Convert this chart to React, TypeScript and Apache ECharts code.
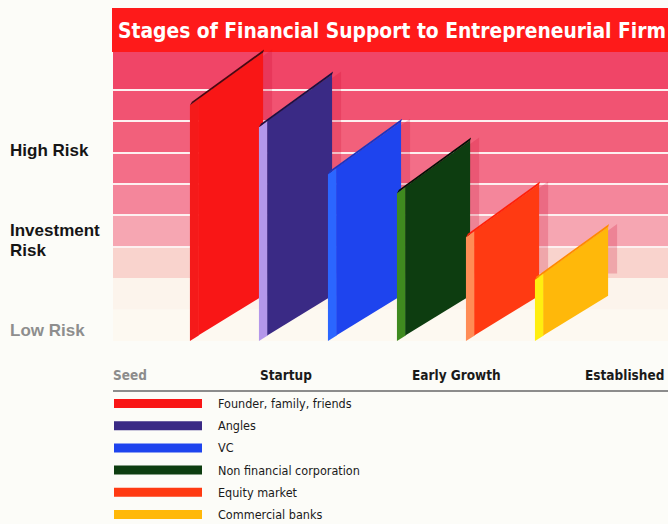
import React, { useEffect, useRef } from "react";
import * as echarts from "echarts";

const TITLE = "Stages of Financial Support to Entrepreneurial Firm";
const sources = [
  "Founder, family, friends",
  "Angles",
  "VC",
  "Non financial corporation",
  "Equity market",
  "Commercial banks",
];
// risk level reached by each source (in background band units)
const riskValues = [7.5, 6.8, 5.3, 4.7, 3.3, 1.95];
const frontColors = ["#f91616", "#3a2a85", "#1e44ee", "#0d3d10", "#ff3a12", "#ffb80a"];
const stripColors = ["#f51a1a", "#b497ea", "#2b66ff", "#3f8a1f", "#ff8c55", "#ffee10"];
const topColors = ["#4a0810", "#1a1040", "#1a34c0", "#050f05", "#ff2008", "#ff8a00"];
const stages = ["Seed", "Startup", "Early Growth", "Established"];
const stageX = [113, 260, 412, 585];
const riskLabels = ["High Risk", "Investment\nRisk", "Low Risk"];
const riskLabelY = [150, 240, 330];
const bandColors = [
  "#fdf9f1", "#fcf4ec", "#f9d3cd", "#f6a6b2", "#f4869b",
  "#f36e88", "#f2607b", "#f15372", "#f04567", "#f04567",
];
const lineColors = [
  "rgba(0,0,0,0)", "rgba(0,0,0,0)", "rgba(0,0,0,0)", "#fdf0f0", "#fdf0f0",
  "#fdf0f0", "#fdf0f0", "#fdf0f0", "#fdf0f0", "rgba(0,0,0,0)", "rgba(0,0,0,0)",
];

const NARROW = "'Liberation Sans Narrow', 'DejaVu Sans Condensed', 'Liberation Sans', sans-serif";
const WIDE = "'Liberation Sans', Arial, sans-serif";

function makeRender(idx: number) {
  return (params: any, api: any) => {
    const xv = api.value(0);
    const v = api.value(1);
    const top = api.coord([xv, v]);
    const base = api.coord([xv, 0]);
    const clip = api.coord([xv, 2.15])[1];
    const w = api.size([1, 0])[0] * 1.06;
    const L = top[0] - w / 2;
    const R = top[0] + w / 2;
    const yT = top[1];
    const yB = base[1];
    const s = w * 0.12;
    const tr = w * 0.72;
    const br = w * 0.62;
    const sx = 9;
    const shadow = [
      [L + sx, yT - 3],
      [R + sx, yT - tr - 3],
      [R + sx, Math.min(yB - br - 2, clip)],
      [L + sx, Math.min(yB - 2, clip)],
    ];
    const strip = [
      [L, yT],
      [L + s, yT - (s / w) * tr],
      [L + s, yB - (s / w) * br],
      [L, yB],
    ];
    const front = [
      [L + s - 0.5, yT - (s / w) * tr],
      [R, yT - tr],
      [R, yB - br],
      [L + s - 0.5, yB - (s / w) * br],
    ];
    const topFace = [
      [L, yT],
      [R, yT - tr],
      [R + 1, yT - tr - 3],
      [L + 2, yT - 3.5],
    ];
    return {
      type: "group",
      children: [
        { type: "polygon", shape: { points: shadow }, style: { fill: "rgba(205,10,45,0.22)" } },
        { type: "polygon", shape: { points: strip }, style: { fill: stripColors[idx] } },
        { type: "polygon", shape: { points: front }, style: { fill: frontColors[idx] } },
        { type: "polygon", shape: { points: topFace }, style: { fill: topColors[idx] } },
      ],
    };
  };
}

export default function App() {
  const ref = useRef<HTMLDivElement>(null);
  useEffect(() => {
    if (!ref.current) return;
    const chart = echarts.init(ref.current, null, { renderer: "svg" });
    const graphics: any[] = [
      { type: "rect", shape: { x: 112, y: 8, width: 556, height: 44 }, style: { fill: "#fe1a1a" }, z: 0 },
      { type: "line", shape: { x1: 113, y1: 391, x2: 668, y2: 391 }, style: { stroke: "#8c8c8c", lineWidth: 2 } },
    ];
    riskLabels.forEach((t, i) => {
      graphics.push({
        type: "text",
        x: 10,
        y: riskLabelY[i],
        style: {
          text: t,
          fill: i === 2 ? "#8e8e8e" : "#151515",
          font: `bold 17px ${WIDE}`,
          lineHeight: 20,
          verticalAlign: "middle",
        },
      });
    });
    stages.forEach((t, i) => {
      graphics.push({
        type: "text",
        x: stageX[i],
        y: 375,
        style: {
          text: t,
          fill: i === 0 ? "#8c8c8c" : "#1a1a1a",
          font: `bold 13.5px ${NARROW}`,
          verticalAlign: "middle",
        },
      });
    });
    chart.setOption({
      animation: false,
      backgroundColor: "#fcfcf8",
      title: {
        text: TITLE,
        left: 118,
        top: 20,
        padding: 0,
        z: 6,
        textStyle: { color: "#ffffff", fontSize: 20.8, fontWeight: "bold", fontFamily: NARROW },
      },
      graphic: { elements: graphics },
      grid: { left: 113, right: 0, top: 52, bottom: 183 },
      xAxis: { type: "value", min: -1.645, max: 6.398, show: false },
      yAxis: {
        type: "value",
        min: 0,
        max: 9.19,
        interval: 1,
        axisLabel: { show: false },
        axisLine: { show: false },
        axisTick: { show: false },
        splitLine: { show: true, lineStyle: { color: lineColors, width: 2 } },
        splitArea: { show: true, areaStyle: { color: bandColors } },
      },
      legend: {
        orient: "vertical",
        left: 114,
        top: 397,
        height: 140,
        padding: 0,
        itemWidth: 88,
        itemHeight: 9,
        itemGap: 9.2,
        icon: "rect",
        data: sources,
        textStyle: { fontSize: 12.5, color: "#1a1a1a", fontFamily: NARROW, padding: [0, 0, 0, 11] },
      },
      series: sources.map((name, i) => ({
        type: "custom",
        name,
        itemStyle: { color: frontColors[i] },
        renderItem: makeRender(i),
        data: [[i, riskValues[i]]],
        z: 2 + i,
      })),
    });
    return () => chart.dispose();
  }, []);
  return (
    <div
      ref={ref}
      style={{ position: "absolute", left: 0, top: 0, width: 668, height: 524 }}
    />
  );
}
